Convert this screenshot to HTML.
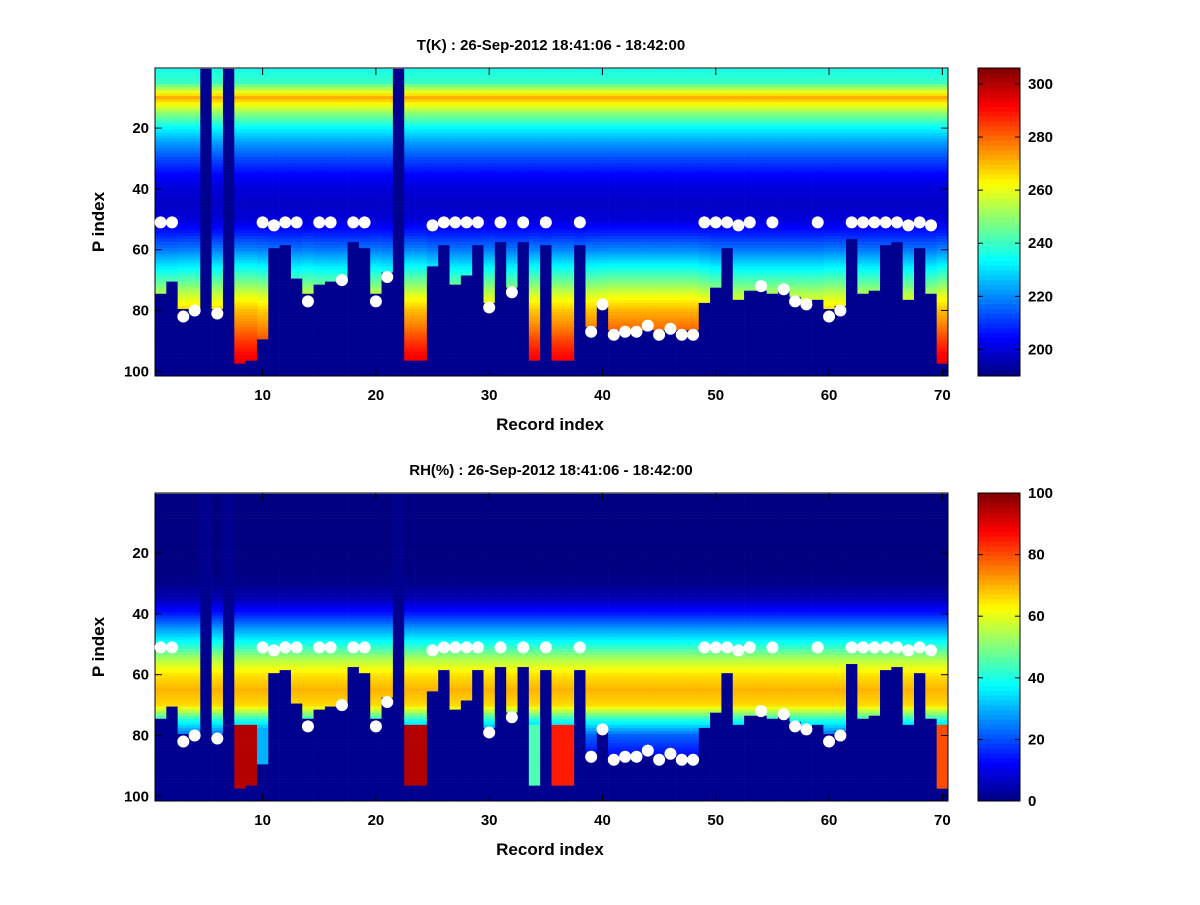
<!DOCTYPE html>
<html><head><meta charset="utf-8">
<style>
html,body{margin:0;padding:0;background:#fff;}
svg text{font-family:"Liberation Sans",sans-serif;font-weight:bold;fill:#000;}
</style></head>
<body>
<svg id="fig" width="1200" height="900" viewBox="0 0 1200 900" xmlns="http://www.w3.org/2000/svg"></svg>
<script>
// ---- data ----
const records = Array.from({length:70},(_,i)=>i+1);
const cutoff = [75,71,80,80,1,80,1,98,97,90,60,59,70,75,72,71,71,58,60,75,68,1,97,97,66,59,72,69,59,78,58,73,58,97,59,97,97,59,86,78,87,87,87,87,87,87,87,87,78,73,60,77,74,74,75,74,76,78,77,80,79,57,75,74,59,58,77,60,75,98];
const dots = [51,51,82,80,null,81,null,null,null,51,52,51,51,77,51,51,70,51,51,77,69,null,null,null,52,51,51,51,51,79,51,74,51,null,51,null,null,51,87,78,88,87,87,85,88,86,88,88,51,51,51,52,51,72,51,73,77,78,51,82,80,51,51,51,51,51,52,51,52,null];
const tOffset = [0,0,2,2,0,2,0,5,5,3,0,0,0,2,0,0,0,0,0,2,0,0,5,5,0,0,0,0,0,2,0,0,0,4,0,4,4,0,4,5,6,6,6,6,6,6,6,6,3,0,0,0,0,0,0,0,0,0,0,2,2,0,0,0,0,0,0,0,0,5];
// profile keypoints every 5 P-index: 1,5,10,...,100
const profIdx = [1,5,10,15,20,25,30,35,40,45,50,55,60,65,70,75,80,85,90,95,101];
const tProfile = [236,240,272,250,233,222,213,205,200,198,200,208,218,230,242,255,265,272,280,287,292];
const rhProfile = [0,0,0,0,0,0,1,5,15,28,40,55,65,70,66,40,22,15,12,10,10];
const rhBottom = [0,0,10,10,0,10,0,95,95,30,0,0,0,10,0,0,0,0,0,10,0,0,95,95,0,0,0,0,0,10,0,0,0,45,0,85,85,0,10,10,10,10,10,10,10,10,10,10,10,0,0,0,0,0,0,0,0,0,0,10,10,0,0,0,0,0,0,0,0,80];
const xTicks = [10,20,30,40,50,60,70];
const yTicks = [20,40,60,80,100];
const tCbTicks = [200,220,240,260,280,300];
const rhCbTicks = [0,20,40,60,80,100];
const tRange = [190,306];
const rhRange = [0,100];

const NS="http://www.w3.org/2000/svg";
const svg=document.getElementById('fig');
function mk(tag,attrs,parent){const e=document.createElementNS(NS,tag);for(const k in attrs)e.setAttribute(k,attrs[k]);(parent||svg).appendChild(e);return e;}
function jet(v){v=Math.max(0,Math.min(1,v));
 const r=Math.max(0,Math.min(1,Math.min(4*v-1.5,-4*v+4.5)));
 const g=Math.max(0,Math.min(1,Math.min(4*v-0.5,-4*v+3.5)));
 const b=Math.max(0,Math.min(1,Math.min(4*v+0.5,-4*v+2.5)));
 return `rgb(${Math.round(r*255)},${Math.round(g*255)},${Math.round(b*255)})`;}
function prof(arr,p){for(let i=0;i<profIdx.length-1;i++){if(p<=profIdx[i+1]){const t=(p-profIdx[i])/(profIdx[i+1]-profIdx[i]);return arr[i]+t*(arr[i+1]-arr[i]);}}return arr[arr.length-1];}

const L=155,R=948,PW=R-L,colW=PW/70,rowH=3.04;
function xScale(v){return L+(v-0.5)*colW;}
function yScale(p,top){return top+0.8+(p-0.5)*rowH;}

function panel(top,kind){
  const g=mk('g',{});
  
  
  const range=kind==='t'?tRange:rhRange;
  records.forEach((r,i)=>{
    for(let p=1;p<=101;p++){
      let col;
      if(p>=cutoff[i]) col='#00008f';
      else{
        let v;
        if(kind==='t'){const w=Math.max(0,Math.min(1,(p-50)/30));v=prof(tProfile,p)+w*tOffset[i];}
        else{v=prof(rhProfile,p); if(p>76&&rhBottom[i]>0)v=Math.max(v,rhBottom[i]);}
        col=jet((v-range[0])/(range[1]-range[0]));
      }
      const c=mk('rect',{x:(xScale(r)-colW/2).toFixed(2),y:(yScale(p,top)-rowH/2).toFixed(2),width:(colW+0.3).toFixed(2),height:(rowH+0.3).toFixed(2),fill:col},g);
      
      
    }
  });
  mk('rect',{x:L,y:top,width:PW,height:308,fill:'none',stroke:'#000','stroke-width':1});
  records.forEach((r,i)=>{
    if(dots[i]===null)return;
    const d=mk('circle',{cx:xScale(r),cy:yScale(dots[i],top),r:6,fill:'#fff'});
    
    
  });
  xTicks.forEach(t=>{
    const x=xScale(t);
    mk('line',{x1:x,y1:top+308,x2:x,y2:top+301,stroke:'#000'});
    mk('line',{x1:x,y1:top,x2:x,y2:top+7,stroke:'#000'});
    const tx=mk('text',{x:x,y:top+332,'text-anchor':'middle','font-size':15});tx.textContent=t;
    
  });
  yTicks.forEach(t=>{
    const y=yScale(t,top);
    mk('line',{x1:L,y1:y,x2:L+7,y2:y,stroke:'#000'});
    mk('line',{x1:R,y1:y,x2:R-7,y2:y,stroke:'#000'});
    const tx=mk('text',{x:L-6,y:y+5,'text-anchor':'end','font-size':15});tx.textContent=t;
    
  });
  const xl=mk('text',{x:550,y:top+362,'text-anchor':'middle','font-size':17});xl.textContent='Record index';
  
  const yl=mk('text',{x:104,y:top+154,'text-anchor':'middle','font-size':17,transform:`rotate(-90 104 ${top+154})`});yl.textContent='P index';
  
  const ti=mk('text',{x:551,y:top-18,'text-anchor':'middle','font-size':15});
  ti.textContent=(kind==='t'?'T(K)':'RH(%)')+' : 26-Sep-2012 18:41:06 - 18:42:00';
  
  // colorbar
  const cb=mk('g',{});
  
  
  const CX=978,CW=42,CH=308,N=64;
  for(let k=0;k<N;k++){
    mk('rect',{x:CX,y:top+CH-(k+1)*CH/N,width:CW,height:CH/N+0.5,fill:jet((k+0.5)/N)},cb);
  }
  mk('rect',{x:CX,y:top,width:CW,height:CH,fill:'none',stroke:'#000'},cb);
  const ticks=kind==='t'?tCbTicks:rhCbTicks;
  ticks.forEach(t=>{
    const y=top+CH-(t-range[0])/(range[1]-range[0])*CH;
    mk('line',{x1:CX,y1:y,x2:CX+5,y2:y,stroke:'#000'},cb);
    mk('line',{x1:CX+CW,y1:y,x2:CX+CW-5,y2:y,stroke:'#000'},cb);
    const tx=mk('text',{x:CX+CW+8,y:y+5,'font-size':15},cb);tx.textContent=t;
    
  });
}
panel(68,'t');
panel(493,'rh');
</script>
</body></html>
